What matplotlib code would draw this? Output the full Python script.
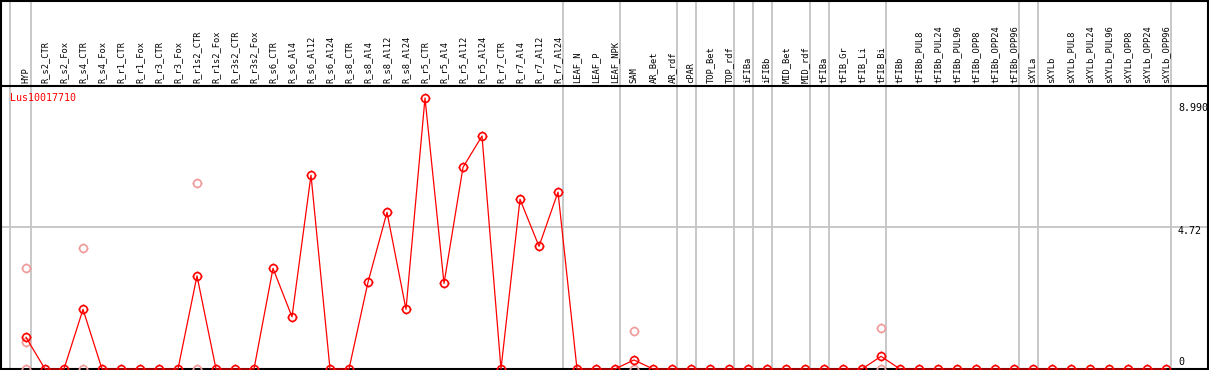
import matplotlib
matplotlib.use("Agg")
import matplotlib.pyplot as plt
import matplotlib.transforms as mtransforms
from matplotlib.path import Path
import numpy as np

# sample names (one column each)
samples = ["HYP", "R_s2_CTR", "R_s2_Fox", "R_s4_CTR", "R_s4_Fox", "R_r1_CTR", "R_r1_Fox",
           "R_r3_CTR", "R_r3_Fox", "R_r1s2_CTR", "R_r1s2_Fox", "R_r3s2_CTR", "R_r3s2_Fox",
           "R_s6_CTR", "R_s6_Al4", "R_s6_Al12", "R_s6_Al24", "R_s8_CTR", "R_s8_Al4",
           "R_s8_Al12", "R_s8_Al24", "R_r5_CTR", "R_r5_Al4", "R_r5_Al12", "R_r5_Al24",
           "R_r7_CTR", "R_r7_Al4", "R_r7_Al12", "R_r7_Al24", "LEAF_N", "LEAF_P", "LEAF_NPK",
           "SAM", "AR_Bet", "AR_rdf", "cPAR", "TOP_Bet", "TOP_rdf", "iFIBa", "iFIBb",
           "MID_Bet", "MID_rdf", "tFIBa", "tFIB_Gr", "tFIB_Li", "tFIB_Bi", "tFIBb",
           "tFIBb_PUL8", "tFIBb_PUL24", "tFIBb_PUL96", "tFIBb_OPP8", "tFIBb_OPP24",
           "tFIBb_OPP96", "sXYLa", "sXYLb", "sXYLb_PUL8", "sXYLb_PUL24", "sXYLb_PUL96",
           "sXYLb_OPP8", "sXYLb_OPP24", "sXYLb_OPP96"]

# mean expression per sample
means = [1.05, 0, 0, 1.98, 0, 0, 0, 0, 0, 3.09, 0, 0, 0,
         3.34, 1.73, 6.43, 0, 0, 2.88, 5.20, 1.98, 8.99, 2.84, 6.69, 7.73,
         0, 5.63, 4.07, 5.87, 0, 0, 0,
         0.30, 0, 0, 0, 0, 0, 0, 0, 0, 0, 0, 0, 0, 0.42, 0,
         0, 0, 0, 0, 0, 0, 0, 0, 0, 0, 0, 0, 0, 0]

# individual replicates (sample index, value)
rep_idx = [0, 0, 0, 3, 3, 9, 9, 32, 32, 45, 45]
rep_vals = [3.34, 0.90, 0, 4.00, 0, 6.16, 0, 1.25, 0, 1.35, 0]

# sample index after which a group separator is drawn
group_ends = [0, 28, 31, 34, 35, 37, 38, 39, 41, 42, 45, 52, 53, 60]

gene = "Lus10017710"
y_max = 8.99
y_mid = 4.72
y_labels = ["8.990", "4.72", "0"]

W, H = 1209, 370
X0, DX = 26, 19          # pixel x of first column, column spacing
Y0, YTOP = 369, 98       # pixel y of 0 and of y_max
HEAD = 86                # pixel y of header line
scale = (Y0 - YTOP) / y_max

fig = plt.figure(figsize=(W / 100, H / 100), dpi=100)
ax = fig.add_axes([0, 0, 1, 1])
ax.set_xlim(-X0 / DX, (W - X0) / DX)
ax.set_ylim(-(H - Y0) / scale, Y0 / scale)
ax.axis("off")

def fy(py):
    # pixel row -> axes fraction
    return (H - py) / H

# little ticks around each circle
tick_path = Path([(0, 1), (0, 1.35), (0, -1), (0, -1.35), (1, 0), (1.35, 0), (-1, 0), (-1.35, 0)],
                 [Path.MOVETO, Path.LINETO] * 4)

grey = "#c4c4c4"
ax.axvline(-0.84, color=grey, lw=1.3, zorder=1)
for g in group_ends:
    ax.axvline(g + 0.25, color=grey, lw=1.3, zorder=1)
ax.axhline(y_mid, xmin=0, xmax=1208 / W, color=grey, lw=1.3, zorder=1)

# frame
ax.plot([0, 1], [fy(0.5)] * 2, color="black", lw=1.5, transform=ax.transAxes, clip_on=False)
ax.plot([0, 1208 / W], [fy(HEAD)] * 2, color="black", lw=1.5, transform=ax.transAxes)
ax.plot([0.5 / W] * 2, [0, 1], color="black", lw=1.5, transform=ax.transAxes)
ax.plot([1207.5 / W] * 2, [0, 1], color="black", lw=1.5, transform=ax.transAxes)
ax.axhline(0, color="black", lw=1.5, zorder=2)

x = np.arange(len(samples))
for xs, ys, c, z in [(rep_idx, rep_vals, "#f09a9a", 3), (x, means, "red", 4)]:
    ax.plot(xs, ys, linestyle="none", marker="o", ms=5.6, mfc="none",
            mec=c, mew=1.2, zorder=z, clip_on=False)
    ax.plot(xs, ys, linestyle="none", marker=tick_path, ms=7.6, mfc="none",
            mec=c, mew=1.0, zorder=z, clip_on=False)
ax.plot(x, means, color="red", lw=0.9, zorder=4)

xt = ax.get_xaxis_transform()
for i, s in enumerate(samples):
    ax.text(i, fy(83), s, rotation=90, ha="center", va="bottom", transform=xt,
            family="DejaVu Sans Mono", fontsize=6.3, color="black")

ax.text(10 / W, fy(98), gene, transform=ax.transAxes, ha="left", va="center",
        family="DejaVu Sans Mono", fontsize=7.2, color="red")

bt = mtransforms.blended_transform_factory(ax.transAxes, ax.transData)
offsets = [-10, -4, 7]   # pixel shift of each label from its value
for v, lab, off in zip([y_max, y_mid, 0], y_labels, offsets):
    ax.text(1178 / W, v + off / scale, lab, transform=bt,
            ha="left", va="center", family="DejaVu Sans Mono", fontsize=7.2)

fig.savefig("out.png", dpi=100)
